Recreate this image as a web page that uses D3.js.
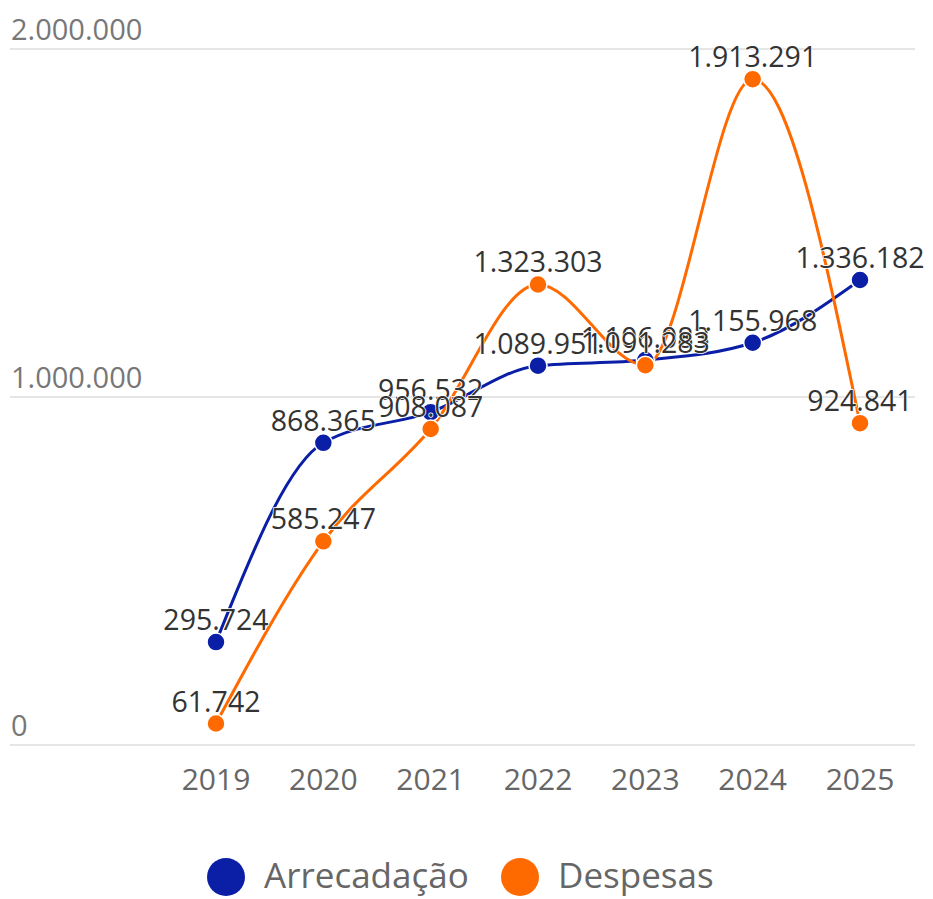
<!DOCTYPE html>
<html>
<head>
    <meta charset="utf-8">
    <title>Arrecadação x Despesas</title>
    <style>
    body { margin: 0; background: #fff; }
    svg#chart text { font-family: "Open Sans", sans-serif; }
    .grid line { stroke: #dcdcdc; stroke-width: 1.5; }
    .ylab { fill: #777; font-size: 29px; }
    .xlab { fill: #666; font-size: 30px; }
    .vlab { fill: #333; font-size: 28.5px; text-anchor: middle;
            stroke: #fff; stroke-width: 1.5px; paint-order: stroke; }
    .legend text { fill: #666; font-size: 35px; }
    </style>
</head>
<body>
    <svg id="chart"></svg>
    <script src="https://d3js.org/d3.v7.min.js"></script>
    <script>
    var years = ['2019', '2020', '2021', '2022', '2023', '2024', '2025'];
    var arrecadacao = [295724, 868365, 956532, 1089951, 1106083, 1155968, 1336182];
    var despesas = [61742, 585247, 908087, 1323303, 1091283, 1913291, 924841];
    var yTicks = [0, 1000000, 2000000];
    var seriesNames = ['Arrecadação', 'Despesas'];
    var seriesColors = ['#0a1fa6', '#ff6a00'];

    var W = 933, H = 899;
    var svg = d3.select('svg#chart').attr('width', W).attr('height', H);

    var x = d3.scalePoint().domain(years).range([216, 860]);
    var y = d3.scaleLinear().domain([0, 2000000]).range([745, 49]);

    var fmt = function(v) {
        return String(v).replace(/\B(?=(\d{3})+(?!\d))/g, '.');
    };

    // grid + y labels
    var grid = svg.append('g').attr('class', 'grid');
    grid.selectAll('line').data(yTicks).enter().append('line')
        .attr('x1', 10).attr('x2', 915)
        .attr('y1', function(d) { return y(d); })
        .attr('y2', function(d) { return y(d); });
    svg.selectAll('text.ylab').data(yTicks).enter().append('text')
        .attr('class', 'ylab')
        .attr('x', 11)
        .attr('y', function(d) { return y(d) - 9; })
        .text(function(d) { return fmt(d); });

    // x labels
    svg.selectAll('text.xlab').data(years).enter().append('text')
        .attr('class', 'xlab')
        .attr('x', function(d) { return x(d); })
        .attr('y', 790)
        .attr('text-anchor', 'middle')
        .text(function(d) { return d; });

    var series = [arrecadacao, despesas];
    var line = d3.line()
        .x(function(d, i) { return x(years[i]); })
        .y(function(d) { return y(d); })
        .curve(d3.curveMonotoneX);

    series.forEach(function(vals, s) {
        svg.append('path')
            .attr('d', line(vals))
            .attr('fill', 'none')
            .attr('stroke', seriesColors[s])
            .attr('stroke-width', 3);
    });

    series.forEach(function(vals, s) {
        svg.selectAll('circle.s' + s).data(vals).enter().append('circle')
            .attr('class', 's' + s)
            .attr('cx', function(d, i) { return x(years[i]); })
            .attr('cy', function(d) { return y(d); })
            .attr('r', 9)
            .attr('fill', seriesColors[s])
            .attr('stroke', '#fff')
            .attr('stroke-width', 1.5);
    });

    series.forEach(function(vals, s) {
        svg.selectAll('text.v' + s).data(vals).enter().append('text')
            .attr('class', 'vlab v' + s)
            .attr('x', function(d, i) { return x(years[i]); })
            .attr('y', function(d) { return y(d) - 12; })
            .text(function(d) { return fmt(d); });
    });

    // legend
    var lg = svg.append('g').attr('class', 'legend');
    var legendX = [226, 520];
    seriesNames.forEach(function(name, s) {
        lg.append('circle')
            .attr('cx', legendX[s]).attr('cy', 877).attr('r', 19)
            .attr('fill', seriesColors[s]);
        lg.append('text')
            .attr('x', legendX[s] + 38).attr('y', 888)
            .text(name);
    });
    </script>
</body>
</html>
